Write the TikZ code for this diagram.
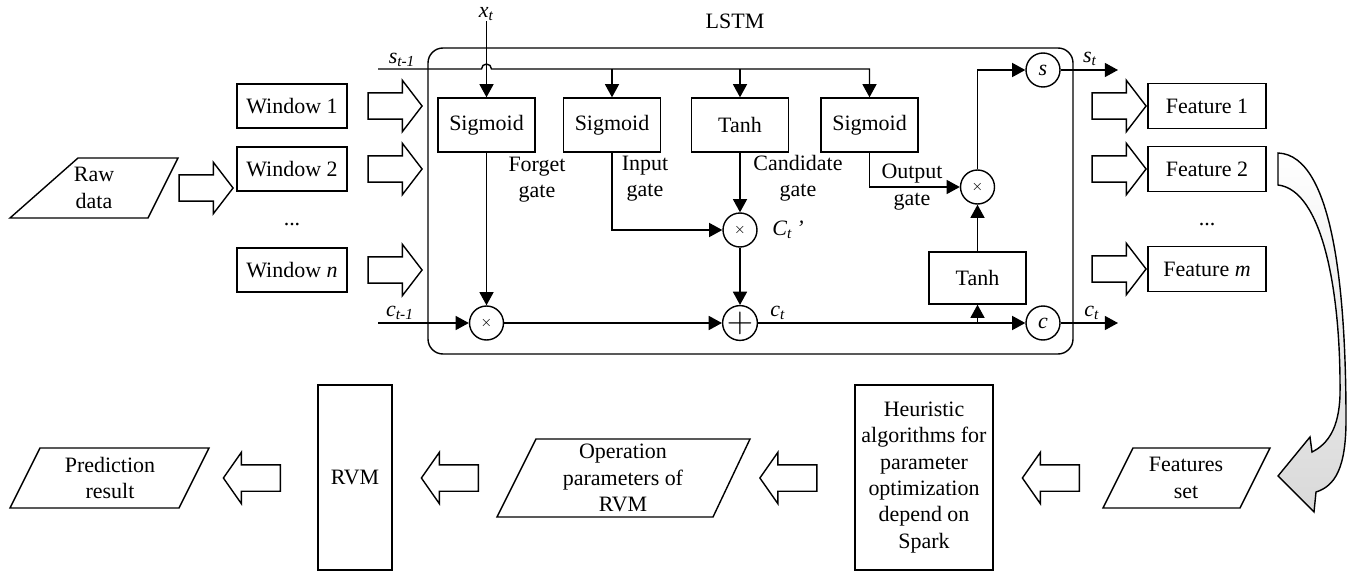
\documentclass[tikz,border=0pt]{standalone}
\usepackage{fontspec}
\setmainfont{Liberation Serif}
\usetikzlibrary{arrows.meta,shapes.arrows,calc,positioning}

\tikzset{
  gatebox/.style={draw,minimum width=1.94cm,minimum height=1.08cm,inner sep=0pt},
  winbox/.style={draw,minimum width=2.2cm,minimum height=0.88cm,inner sep=0pt},
  featbox/.style={draw,minimum width=2.36cm,minimum height=0.9cm,inner sep=0pt},
  tallbox/.style={draw,minimum height=3.7cm,inner sep=0pt,align=center},
  op/.style={draw,circle,minimum size=0.68cm,inner sep=0pt},
  lbl/.style={align=center,inner sep=0pt},
  barrow/.style={single arrow,draw,fill=white,minimum height=1.08cm,minimum width=1cm,
    single arrow head extend=0.25cm,single arrow tip angle=105,inner xsep=0pt,inner ysep=0.25cm},
  larrow/.style={barrow,minimum height=1.14cm,single arrow tip angle=110,shape border rotate=180},
}

\begin{document}
\begin{tikzpicture}[x=0.02cm,y=-0.02cm,line width=0.8pt,>={Triangle[length=7.5pt,width=8pt]},
  font=\fontsize{12.5}{15}\selectfont]
  \useasboundingbox (0,0) rectangle (1352,571);

  % LSTM cell
  \draw[rounded corners=0.3cm] (428,48) rectangle (1073,354);
  \node[lbl] (lstm) at (735,21) {LSTM};

  \node[gatebox] (sig1) at (486.5,125) {Sigmoid};
  \node[gatebox] (sig2) at (612,125) {Sigmoid};
  \node[gatebox] (tanh1) at (740,125) {Tanh};
  \node[gatebox] (sig4) at (869.5,125) {Sigmoid};
  \node[gatebox,minimum height=1.04cm] (tanh2) at (977.5,278) {Tanh};

  \node[op] (fx) at (486.5,323) {\footnotesize$\times$};
  \node[op] (cx) at (740,230) {\footnotesize$\times$};
  \node[op] (add) at (740,323) {\fontsize{22}{22}\selectfont$+$};
  \node[op] (ox) at (977.5,187) {\footnotesize$\times$};
  \node[op] (sc) at (1043,70) {\textit{s}};
  \node[op] (cc) at (1043,323) {\textit{c}};

  \node[lbl] (flbl) at (537,180) {Forget\\gate};
  \node[lbl] (ilbl) at (645,179) {Input\\gate};
  \node[lbl] (clbl) at (798,178) {Candidate\\gate};
  \node[lbl] (olbl) at (912,187) {Output\\gate};
  \node[lbl] (ctp) at (788,230) {\textit{C}\textsubscript{\textit{t}}\,\textit{’}};

  % inputs and outputs of the cell
  \node[lbl] (xt) at (486.5,14) {\textit{x}\textsubscript{\textit{t}}};
  \coordinate (sin) at (378,69);
  \coordinate (cin) at (378,323);
  \coordinate (sout) at (1118,70);
  \coordinate (cout) at (1118,323);
  \coordinate (br) at (977.5,323);
  \node[lbl] (sinl) at (402,60) {\textit{s}\textsubscript{\textit{t-1}}};
  \node[lbl] (cinl) at (400,313) {\textit{c}\textsubscript{\textit{t-1}}};
  \node[lbl] (ctl) at (778,313) {\textit{c}\textsubscript{\textit{t}}};
  \node[lbl] (soutl) at (1090,59) {\textit{s}\textsubscript{\textit{t}}};
  \node[lbl] (coutl) at (1092,313) {\textit{c}\textsubscript{\textit{t}}};

  \draw[->] (xt) -- (sig1);
  \draw[->] (sin) -- ($(sin -| sig1)+(-5,0)$) arc[start angle=180,end angle=0,radius=0.1cm]
    -- (sin -| sig4) -- (sig4);
  \draw[->] (sin -| sig2) -- (sig2);
  \draw[->] (sin -| tanh1) -- (tanh1);
  \draw[->] (sig1) -- (fx);
  \draw[->] (sig2) |- (cx);
  \draw[->] (tanh1) -- (cx);
  \draw[->] (cx) -- (add);
  \draw[->] (cin) -- (fx);
  \draw[->] (fx) -- (add);
  \draw[->] (add) -- (cc);
  \draw[->] (br) -- (tanh2);
  \draw[->] (tanh2) -- (ox);
  \draw[->] (sig4) |- (ox);
  \draw[->] (ox) |- (sc);
  \draw[->] (sc) -- (sout);
  \draw[->] (cc) -- (cout);

  % windows
  \node[lbl] (raw) at (94,188) {Raw\\data};
  \draw (10,218) -- (78,158) -- (178,158) -- (148,218) -- cycle;
  \node[barrow] (ra) at (201,188) {};
  \node[winbox] (win1) at (292,106) {Window 1};
  \node[winbox] (win2) at (292,169) {Window 2};
  \node[lbl] (wdots) at (292,225) {...};
  \node[winbox] (winn) at (292,270) {Window \textit{n}};
  \node[barrow] (wa1) at (390,106) {};
  \node[barrow] (wa2) at (390,169) {};
  \node[barrow] (wan) at (390,270) {};

  % features
  \node[barrow] (fa1) at (1114,106) {};
  \node[barrow] (fa2) at (1114,169) {};
  \node[barrow] (fam) at (1114,269) {};
  \node[featbox] (feat1) at (1207,106) {Feature 1};
  \node[featbox] (feat2) at (1207,169) {Feature 2};
  \node[lbl] (fdots) at (1207,225) {...};
  \node[featbox] (featm) at (1207,269) {Feature \textit{m}};

  \shade[draw,top color=white,bottom color=gray!30]
    (1278,153) .. controls (1335,155) and (1346,300) .. (1346,420)
    .. controls (1346,468) and (1335,486) .. (1316,492) -- (1314,512) -- (1278,476)
    -- (1310,437) -- (1312,452) .. controls (1328,444) and (1339,428) .. (1340,395)
    .. controls (1341,290) and (1322,190) .. (1278,185) -- cycle;

  % bottom row
  \node[lbl] (fset) at (1186,478) {Features\\set};
  \draw (1103,508) -- (1133,448) -- (1270,448) -- (1240,508) -- cycle;
  \node[larrow] (la4) at (1055.5,478) {};
  \node[tallbox,minimum width=2.76cm] (heur) at (924,477.5)
    {Heuristic\\algorithms for\\parameter\\optimization\\depend on\\Spark};
  \node[larrow] (la3) at (793,478) {};
  \node[lbl] (opp) at (623,478) {Operation\\parameters of\\RVM};
  \draw (497,517) -- (536,439) -- (750,439) -- (713,517) -- cycle;
  \node[larrow] (la2) at (454.5,478) {};
  \node[tallbox,minimum width=1.48cm] (rvm) at (355,477.5) {RVM};
  \node[larrow] (la1) at (256.5,478) {};
  \node[lbl] (pred) at (110,478) {Prediction\\result};
  \draw (10,508) -- (40,448) -- (209,448) -- (179,508) -- cycle;
\end{tikzpicture}
\end{document}
